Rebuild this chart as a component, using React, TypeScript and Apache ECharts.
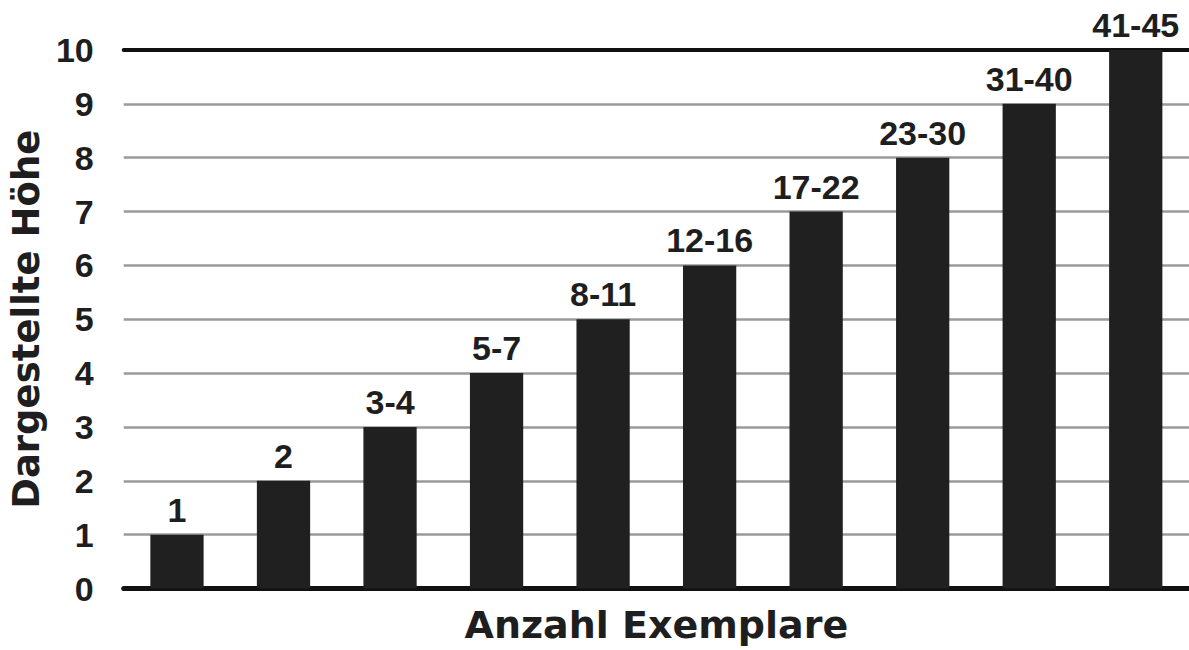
import React, { useEffect, useRef } from "react";
import * as echarts from "echarts";

const categories: string[] = ["1", "2", "3-4", "5-7", "8-11", "12-16", "17-22", "23-30", "31-40", "41-45"];
const heights: number[] = [1, 2, 3, 4, 5, 6, 7, 8, 9, 10];
const yTicks: number[] = [0, 1, 2, 3, 4, 5, 6, 7, 8, 9, 10];
const xTitle = "Anzahl Exemplare";
const yTitle = "Dargestellte Höhe";

export default function App() {
  const ref = useRef<HTMLDivElement>(null);
  useEffect(() => {
    if (!ref.current) return;
    const chart = echarts.init(ref.current, null, { renderer: "svg" });
    const textColor = "#1e1e1e";
    chart.setOption({
      animation: false,
      backgroundColor: "#ffffff",
      grid: { left: 121, right: 0, top: 50, bottom: 61.5, containLabel: false },
      xAxis: [
        {
          type: "category",
          data: categories,
          position: "bottom",
          axisLine: { show: true, lineStyle: { color: "#111111", width: 5 } },
          axisTick: { show: false },
          axisLabel: { show: false },
          name: xTitle,
          nameLocation: "middle",
          nameGap: 17,
          nameTextStyle: {
            fontFamily: "DejaVu Sans",
            fontWeight: "bold",
            fontSize: 38,
            color: textColor,
            verticalAlign: "top",
          },
        },
        {
          type: "category",
          data: categories,
          position: "top",
          axisLine: { show: true, lineStyle: { color: "#111111", width: 4 } },
          axisTick: { show: false },
          axisLabel: { show: false },
        },
      ],
      yAxis: {
        type: "value",
        min: yTicks[0],
        max: yTicks[yTicks.length - 1],
        interval: 1,
        axisLine: { show: false },
        axisTick: { show: false },
        axisLabel: {
          margin: 30,
          fontFamily: "Liberation Sans",
          fontWeight: "bold",
          fontSize: 34,
          color: textColor,
        },
        splitLine: { show: true, lineStyle: { color: "#9a9a9a", width: 2.5 } },
        name: yTitle,
        nameLocation: "middle",
        nameGap: 74,
        nameRotate: 90,
        nameTextStyle: {
          fontFamily: "DejaVu Sans",
          fontWeight: "bold",
          fontSize: 37,
          color: textColor,
        },
      },
      series: [
        {
          type: "bar",
          xAxisIndex: 0,
          data: heights.map((v, i) => ({ value: v, label: { formatter: categories[i] } })),
          barWidth: "50%",
          itemStyle: { color: "#202020" },
          label: {
            show: true,
            position: "top",
            distance: 8,
            fontFamily: "Liberation Sans",
            fontWeight: "bold",
            fontSize: 34,
            color: textColor,
          },
        },
      ],
    });
    return () => chart.dispose();
  }, []);
  return (
    <div
      ref={ref}
      style={{ position: "fixed", left: 0, top: 0, width: 1189, height: 650, background: "#fff" }}
    />
  );
}
